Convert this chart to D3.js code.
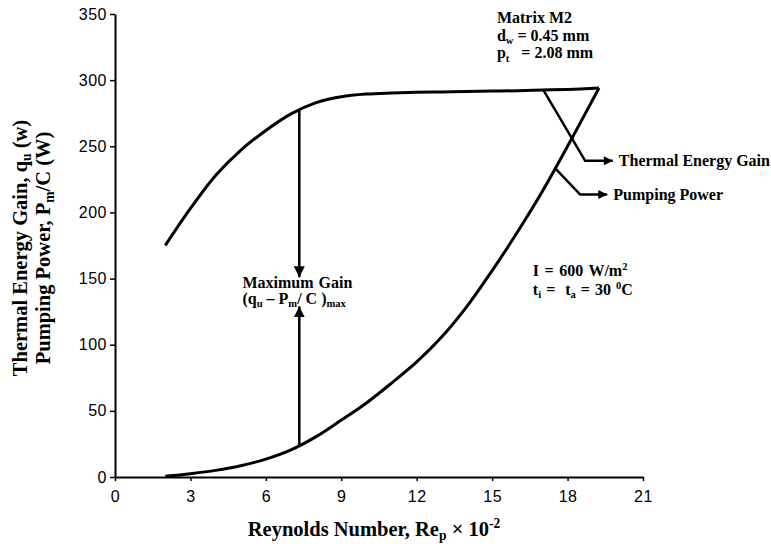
<!DOCTYPE html>
<html>
<head>
<meta charset="utf-8">
<script src="https://cdn.jsdelivr.net/npm/d3@7"></script>
<style>
	body { margin: 0; background: #ffffff; }
	svg { display: block; }
	.tick text { font-family: "Liberation Sans", Arial, sans-serif; font-size: 16px; fill: #000; }
	.label { font-family: "Liberation Serif", "Times New Roman", serif; font-weight: bold; fill: #000; white-space: pre; }
</style>
</head>
<body>
<svg id="chart" width="771" height="544"></svg>
<script>

// Reynolds number (x 10^-2) and the two curves
var aThermalRe = [2, 3, 4, 5, 6, 7, 8, 9, 10, 11, 12, 13, 14, 15, 16, 17, 18, 19.25];
var aThermalGain = [175, 203, 228, 247, 262, 274.5, 283, 287.5, 289.5, 290.3, 290.8, 291.1, 291.4, 291.7, 292, 292.5, 293, 294];

var aPumpingRe = [2, 3, 4, 5, 6, 7, 8, 9, 10, 11, 12, 13, 14, 15, 16, 17, 18, 19.25];
var aPumpingPower = [0.5, 2.5, 5, 8.5, 13.5, 20.5, 30.5, 43, 56, 71, 87, 106, 129, 156, 185, 216, 250, 294];

var aTicksX = [0, 3, 6, 9, 12, 15, 18, 21];
var aTicksY = [0, 50, 100, 150, 200, 250, 300, 350];

// maximum gain marker: Re, thermal gain, pumping power, arrow tips
var fMaxGainRe = 7.33;
var fMaxGainTop = 277.5;
var fMaxGainBottom = 23.8;
var fMaxGainTipDown = 151;
var fMaxGainTipUp = 129;

function AppendRichText(sParent, nX, nY, nSize, aParts, strAnchor, nWordSpacing)
{
	var sText = sParent.append('text')
		.attr('class', 'label')
		.attr('x', nX)
		.attr('y', nY)
		.attr('font-size', nSize)
		.attr('text-anchor', strAnchor || 'start')
		.style('word-spacing', (nWordSpacing || 0) + 'px');
	var nShift = 0;
	aParts.forEach(function(part)
	{
		var nTarget = 0;
		if (part[1] == 'sub') nTarget = nSize * 0.2;
		if (part[1] == 'sup') nTarget = -nSize * 0.38;
		var sSpan = sText.append('tspan')
			.text(part[0])
			.attr('dy', nTarget - nShift);
		if (part[1] != null)
		{
			sSpan.attr('font-size', nSize * 0.66);
		}
		nShift = nTarget;
	});
	return sText;
}

var sSvg = d3.select('#chart');

var nSvgWidth = 771;
var nSvgHeight = 544;
var nBorderTop = 14;
var nBorderLeft = 115;
var nBorderRight = 128;
var nBorderBottom = 67;

var nChartWidth = nSvgWidth - nBorderLeft - nBorderRight;
var nChartHeight = nSvgHeight - nBorderTop - nBorderBottom;

var scaleX = d3.scaleLinear()
	.domain([0, 21])
	.range([0, nChartWidth]);

var scaleY = d3.scaleLinear()
	.domain([0, 350])
	.range([nChartHeight, 0]);

var sChart = sSvg.append('g')
	.attr('transform', 'translate(' + nBorderLeft + ',' + nBorderTop + ')');

var axisX = d3.axisBottom(scaleX)
	.tickValues(aTicksX)
	.tickSize(4)
	.tickSizeOuter(0)
	.tickPadding(10);

var axisY = d3.axisLeft(scaleY)
	.tickValues(aTicksY)
	.tickSize(5)
	.tickSizeOuter(0)
	.tickPadding(3);

var sAxisX = sChart.append('g')
	.attr('transform', 'translate(0,' + nChartHeight + ')')
	.call(axisX);

var sAxisY = sChart.append('g')
	.call(axisY);

[sAxisX, sAxisY].forEach(function(sAxis)
{
	sAxis.select('.domain').attr('stroke', '#000').attr('stroke-width', 2);
	sAxis.selectAll('.tick line').attr('stroke', '#000').attr('stroke-width', 1.5);
	sAxis.selectAll('.tick text').style('letter-spacing', '0.5px');
});

// arrow heads
var sDefs = sSvg.append('defs');
sDefs.append('marker')
	.attr('id', 'arrow-big')
	.attr('viewBox', '0 0 10 10')
	.attr('refX', 10)
	.attr('refY', 5)
	.attr('markerWidth', 11)
	.attr('markerHeight', 11)
	.attr('markerUnits', 'userSpaceOnUse')
	.attr('orient', 'auto')
	.append('path')
		.attr('d', 'M0,0 L10,5 L0,10 Z')
		.attr('fill', '#000');
sDefs.append('marker')
	.attr('id', 'arrow-small')
	.attr('viewBox', '0 0 10 10')
	.attr('refX', 10)
	.attr('refY', 5)
	.attr('markerWidth', 10)
	.attr('markerHeight', 9)
	.attr('markerUnits', 'userSpaceOnUse')
	.attr('orient', 'auto')
	.append('path')
		.attr('d', 'M0,0 L10,5 L0,10 Z')
		.attr('fill', '#000');

// curves
var line = d3.line()
	.x(function(d) { return scaleX(d[0]); })
	.y(function(d) { return scaleY(d[1]); })
	.curve(d3.curveCatmullRom.alpha(0.5));

var aThermal = aThermalRe.map(function(fRe, i) { return [fRe, aThermalGain[i]]; });
var aPumping = aPumpingRe.map(function(fRe, i) { return [fRe, aPumpingPower[i]]; });

[aThermal, aPumping].forEach(function(aSeries)
{
	sChart.append('path')
		.datum(aSeries)
		.attr('d', line)
		.attr('fill', 'none')
		.attr('stroke', '#000')
		.attr('stroke-width', 3)
		.attr('stroke-linejoin', 'round');
});

// maximum gain arrows
sChart.append('line')
	.attr('x1', scaleX(fMaxGainRe))
	.attr('x2', scaleX(fMaxGainRe))
	.attr('y1', scaleY(fMaxGainTop))
	.attr('y2', scaleY(fMaxGainTipDown))
	.attr('stroke', '#000')
	.attr('stroke-width', 2.5)
	.attr('marker-end', 'url(#arrow-big)');
sChart.append('line')
	.attr('x1', scaleX(fMaxGainRe))
	.attr('x2', scaleX(fMaxGainRe))
	.attr('y1', scaleY(fMaxGainBottom))
	.attr('y2', scaleY(fMaxGainTipUp))
	.attr('stroke', '#000')
	.attr('stroke-width', 2.5)
	.attr('marker-end', 'url(#arrow-big)');

// leader lines to the curve names
var aLeaders = [
	{ from: [17.04, 292.5], bend: [18.7, 239], tip: [19.8, 239], parts: [['Thermal Energy Gain', null]] },
	{ from: [17.55, 232.5], bend: [18.5, 213.5], tip: [19.58, 213.5], parts: [['Pumping Power', null]] }
];
aLeaders.forEach(function(leader)
{
	sChart.append('path')
		.attr('d', 'M' + scaleX(leader.from[0]) + ',' + scaleY(leader.from[1]) +
			'L' + scaleX(leader.bend[0]) + ',' + scaleY(leader.bend[1]) +
			'L' + scaleX(leader.tip[0]) + ',' + scaleY(leader.tip[1]))
		.attr('fill', 'none')
		.attr('stroke', '#000')
		.attr('stroke-width', 2.5)
		.attr('marker-end', 'url(#arrow-small)');
	AppendRichText(sChart, scaleX(leader.tip[0]) + 6, scaleY(leader.tip[1]) + 5.5, 16, leader.parts);
});

// annotations
AppendRichText(sChart, scaleX(5.07), scaleY(143), 16, [['Maximum Gain', null]], 'start', 1);
AppendRichText(sChart, scaleX(5.07), scaleY(131), 16,
	[['(q', null], ['u', 'sub'], [' – P', null], ['m', 'sub'], ['/ C )', null], ['max', 'sub']]);

AppendRichText(sChart, scaleX(15.19), scaleY(343), 16, [['Matrix M2', null]]);
AppendRichText(sChart, scaleX(15.19), scaleY(329.5), 16, [['d', null], ['w', 'sub'], [' = 0.45 mm', null]]);
AppendRichText(sChart, scaleX(15.19), scaleY(316.5), 16, [['p', null], ['t', 'sub'], ['   = 2.08 mm', null]]);

AppendRichText(sChart, scaleX(16.62), scaleY(152), 16, [['I = 600 W/m', null], ['2', 'sup']], 'start', 1.5);
AppendRichText(sChart, scaleX(16.62), scaleY(137.5), 16,
	[['t', null], ['i', 'sub'], [' =  t', null], ['a', 'sub'], [' = 30 ', null], ['0', 'sup'], ['C', null]], 'start', 1);

// axis titles
AppendRichText(sSvg, 374, 536, 20.5,
	[['Reynolds Number, Re', null], ['p', 'sub'], [' × 10', null], ['-2', 'sup']], 'middle');

var sTitleY = sSvg.append('g')
	.attr('transform', 'translate(0,248) rotate(-90)');
AppendRichText(sTitleY, 0, 27, 20.5,
	[['Thermal Energy Gain, q', null], ['u', 'sub'], [' (w)', null]], 'middle');
AppendRichText(sTitleY, 0, 50, 20.5,
	[['Pumping Power, P', null], ['m', 'sub'], ['/C (W)', null]], 'middle');

</script>
</body>
</html>
